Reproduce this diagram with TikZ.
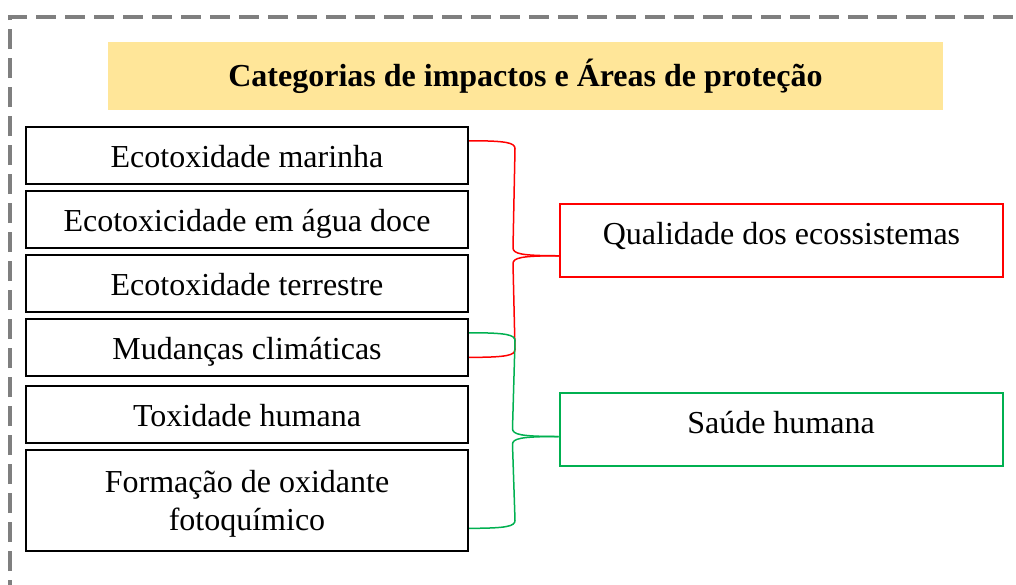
\documentclass[tikz,border=0pt]{standalone}
\usepackage{fontspec}
\setmainfont{Liberation Serif}
\usetikzlibrary{calc}
\definecolor{titlefill}{HTML}{FFE699}
\definecolor{myred}{HTML}{FF0000}
\definecolor{mygreen}{HTML}{00B050}
\definecolor{framegray}{HTML}{7F7F7F}
\begin{document}
\begin{tikzpicture}[x=0.5pt,y=-0.5pt,
  frame/.style={draw=framegray,line width=1.6pt,dash pattern=on 10pt off 4.5pt},
  titlebox/.style={fill=titlefill,minimum width=417.5pt,minimum height=34pt,inner sep=0pt,font=\fontsize{16}{19}\selectfont\bfseries},
  catbox/.style={draw=black,line width=1pt,minimum width=221pt,minimum height=28.5pt,inner sep=0pt,align=center,text height=12pt,text depth=0pt,font=\fontsize{16}{19}\selectfont},
  areabox/.style={line width=1pt,minimum width=221.5pt,minimum height=36.5pt,inner sep=0pt,text height=11pt,text depth=7pt,font=\fontsize{16}{19}\selectfont},
  brace/.style={line width=0.75pt}]
\useasboundingbox (0,0) rectangle (1016,584);
\clip (0,0) rectangle (1016,584);
\draw[frame] (10,600) -- (10,17) -- (1030,17);
\node[titlebox] (title) at (525.5,76) {Categorias de impactos e Áreas de proteção};
\node[catbox] (b1) at (247,155.5) {Ecotoxidade marinha};
\node[catbox] (b2) at (247,219.5) {Ecotoxicidade em água doce};
\node[catbox] (b3) at (247,283.5) {Ecotoxidade terrestre};
\node[catbox] (b4) at (247,347.5) {Mudanças climáticas};
\node[catbox] (b5) at (247,414.5) {Toxidade humana};
\node[catbox,minimum height=50.5pt,text height=,text depth=0pt] (b6) at (247,500.5) {Formação de oxidante\\fotoquímico};
\node[areabox,draw=myred] (q) at (781.5,240) {Qualidade dos ecossistemas};
\node[areabox,draw=mygreen] (s) at (781,429) {Saúde humana};
\coordinate (r1) at ($(b1.north east)!0.25!(b1.south east)$);
\coordinate (r2) at ($(b4.north east)!0.667!(b4.south east)$);
\coordinate (rt) at ($(q.north west)!0.71!(q.south west)$);
\coordinate (g1) at ($(b4.north east)!0.25!(b4.south east)$);
\coordinate (g2) at ($(b6.north east)!0.77!(b6.south east)$);
\coordinate (gt) at ($(s.north west)!0.6!(s.south west)$);
\draw[brace,myred] (r1) .. controls ($(r1)+(38,0)$) and ($(r1)+(46,2)$) .. ($(r1)+(46,8)$)
  -- ($(rt)+(-46,-8)$) .. controls ($(rt)+(-46,-2)$) and ($(rt)+(-38,0)$) .. (rt);
\draw[brace,myred] (rt) .. controls ($(rt)+(-38,0)$) and ($(rt)+(-46,2)$) .. ($(rt)+(-46,8)$)
  -- ($(r2)+(46,-8)$) .. controls ($(r2)+(46,-2)$) and ($(r2)+(38,0)$) .. (r2);
\draw[brace,mygreen] (g1) .. controls ($(g1)+(38,0)$) and ($(g1)+(46,2)$) .. ($(g1)+(46,8)$)
  -- ($(gt)+(-46,-8)$) .. controls ($(gt)+(-46,-2)$) and ($(gt)+(-38,0)$) .. (gt);
\draw[brace,mygreen] (gt) .. controls ($(gt)+(-38,0)$) and ($(gt)+(-46,2)$) .. ($(gt)+(-46,8)$)
  -- ($(g2)+(46,-8)$) .. controls ($(g2)+(46,-2)$) and ($(g2)+(38,0)$) .. (g2);
\end{tikzpicture}
\end{document}
